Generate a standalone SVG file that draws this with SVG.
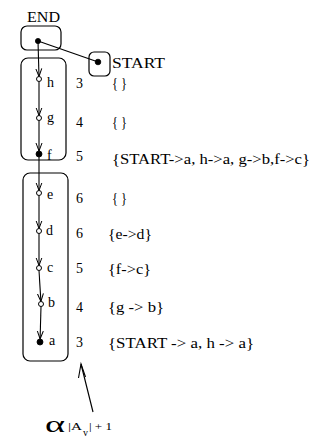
<svg xmlns="http://www.w3.org/2000/svg" width="320" height="438" viewBox="0 0 320 438">
  <style>
    text { font-family: "Liberation Serif", "Times New Roman", serif; fill: #000; }
    .lbl { font-size: 14px; }
    .num { font-size: 14px; }
    .set { font-size: 14px; }
    .big { font-size: 15px; }
    .box { fill: none; stroke: #000; stroke-width: 1.2; }
    .edge { fill: none; stroke: #000; stroke-width: 1.1; }
    .open { fill: #fff; stroke: #000; stroke-width: 1; }
    .full { fill: #000; stroke: #000; stroke-width: 0.8; }
  </style>
  <defs>
    <marker id="arr" viewBox="0 0 8 8" refX="8" refY="4" markerWidth="8" markerHeight="8" markerUnits="userSpaceOnUse" orient="auto">
      <path d="M0,1 L8,4 L0,7" fill="none" stroke="#000" stroke-width="1"/>
    </marker>
  </defs>

  <!-- END terminal -->
  <g id="end">
    <text class="big" x="27" y="22" textLength="33" lengthAdjust="spacingAndGlyphs">END</text>
    <rect class="box" x="21" y="26" width="40" height="24" rx="6"/>
    <circle class="full" cx="38" cy="41" r="2.6"/>
  </g>

  <!-- START terminal -->
  <g id="start">
    <rect class="box" x="89" y="52" width="21" height="24" rx="5"/>
    <circle class="full" cx="98" cy="62" r="2.8"/>
    <text class="big" x="112" y="68" textLength="53" lengthAdjust="spacingAndGlyphs">START</text>
  </g>

  <!-- upper cluster: h, g, f -->
  <g id="cluster1">
    <rect class="box" x="21" y="58" width="45" height="102" rx="7"/>
  </g>
  <!-- lower cluster: e, d, c, b, a -->
  <g id="cluster2">
    <rect class="box" x="23" y="173" width="45" height="188" rx="7"/>
  </g>

  <!-- connectors -->
  <g id="connectors">
    <line class="edge" x1="38" y1="41" x2="96" y2="61.3"/>
    <line class="edge" x1="38" y1="41" x2="39" y2="76.5" marker-end="url(#arr)"/>
    <line class="edge" x1="39" y1="81.5" x2="39" y2="115.5" marker-end="url(#arr)"/>
    <line class="edge" x1="39" y1="120.5" x2="39" y2="151" marker-end="url(#arr)"/>
    <line class="edge" x1="39" y1="157" x2="39" y2="190.5" marker-end="url(#arr)"/>
    <line class="edge" x1="39" y1="195.5" x2="39" y2="228.5" marker-end="url(#arr)"/>
    <line class="edge" x1="39" y1="233.5" x2="39" y2="265.5" marker-end="url(#arr)"/>
    <line class="edge" x1="39" y1="270.5" x2="40.9" y2="301.5" marker-end="url(#arr)"/>
    <line class="edge" x1="41" y1="306.5" x2="40.1" y2="339" marker-end="url(#arr)"/>
    <!-- pointer to the bottom score -->
    <line class="edge" x1="93" y1="412" x2="81" y2="364"/>
    <polyline class="edge" points="78.5,378 81,364 85.5,377"/>
  </g>

  <!-- vertices -->
  <g id="v-h"><circle class="open" cx="39" cy="79" r="2.5"/><text class="lbl" x="47" y="87">h</text></g>
  <g id="v-g"><circle class="open" cx="39" cy="118" r="2.5"/><text class="lbl" x="47" y="122">g</text></g>
  <g id="v-f"><circle class="full" cx="39" cy="154" r="3"/><text class="lbl" x="47" y="160">f</text></g>
  <g id="v-e"><circle class="open" cx="39" cy="193" r="2.5"/><text class="lbl" x="47" y="199">e</text></g>
  <g id="v-d"><circle class="open" cx="39" cy="231" r="2.5"/><text class="lbl" x="46" y="235">d</text></g>
  <g id="v-c"><circle class="open" cx="39" cy="268" r="2.5"/><text class="lbl" x="47" y="272">c</text></g>
  <g id="v-b"><circle class="open" cx="41" cy="304" r="2.5"/><text class="lbl" x="48" y="307">b</text></g>
  <g id="v-a"><circle class="full" cx="40" cy="342" r="3"/><text class="lbl" x="49" y="345">a</text></g>

  <!-- scores -->
  <g id="scores">
    <text class="num" x="76" y="88">3</text>
    <text class="num" x="76" y="127">4</text>
    <text class="num" x="76" y="161">5</text>
    <text class="num" x="76" y="203">6</text>
    <text class="num" x="76" y="238">6</text>
    <text class="num" x="76" y="273">5</text>
    <text class="num" x="76" y="312">4</text>
    <text class="num" x="76" y="347">3</text>
  </g>

  <!-- edge sets -->
  <g id="sets">
    <text class="set" x="112" y="88" textLength="15" lengthAdjust="spacingAndGlyphs">{ }</text>
    <text class="set" x="112" y="127" textLength="15" lengthAdjust="spacingAndGlyphs">{ }</text>
    <text class="set" x="112" y="164" textLength="198" lengthAdjust="spacingAndGlyphs">{START-&gt;a, h-&gt;a, g-&gt;b,f-&gt;c}</text>
    <text class="set" x="112" y="203" textLength="15" lengthAdjust="spacingAndGlyphs">{ }</text>
    <text class="set" x="108" y="239" textLength="44" lengthAdjust="spacingAndGlyphs">{e-&gt;d}</text>
    <text class="set" x="108" y="274" textLength="43" lengthAdjust="spacingAndGlyphs">{f-&gt;c}</text>
    <text class="set" x="108" y="312" textLength="56" lengthAdjust="spacingAndGlyphs">{g -&gt; b}</text>
    <text class="set" x="108" y="348" textLength="146" lengthAdjust="spacingAndGlyphs">{START -&gt; a, h -&gt; a}</text>
  </g>

  <!-- score formula -->
  <g id="formula">
    <text x="45" y="432" style="font-size:24px" textLength="20" lengthAdjust="spacingAndGlyphs">α</text>
    <text x="68" y="430" style="font-size:11px" textLength="14" lengthAdjust="spacingAndGlyphs">|A</text>
    <text x="83" y="436" style="font-size:10px">v</text>
    <text x="89" y="430" style="font-size:11px" textLength="23" lengthAdjust="spacingAndGlyphs">| + 1</text>
  </g>
</svg>
